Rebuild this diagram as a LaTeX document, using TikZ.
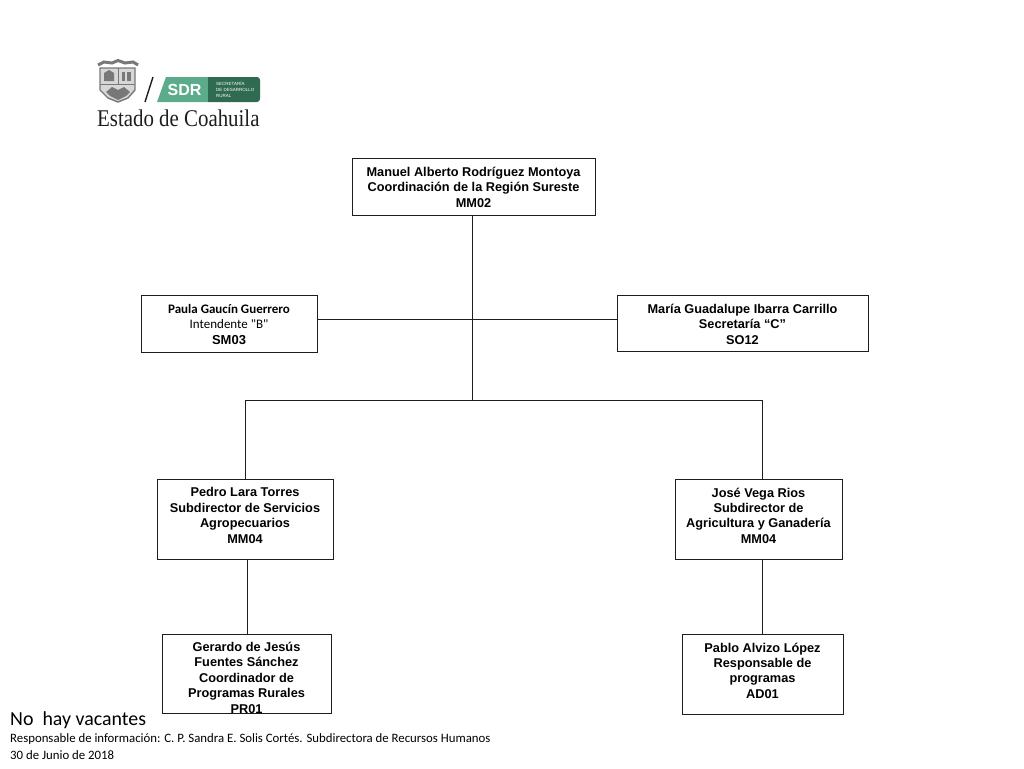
\documentclass[tikz,border=0pt]{standalone}
\usepackage{fontspec}
\setmainfont{Liberation Sans}
\newfontfamily\calfont{Carlito}
\newfontfamily\logofont{Liberation Serif}
\usepackage{tikz}
\usetikzlibrary{calc,positioning}
\definecolor{myline}{RGB}{30,30,30}
\definecolor{mygray}{RGB}{120,120,120}
\definecolor{mylight}{RGB}{215,215,215}
\definecolor{mygreen}{RGB}{92,172,140}
\definecolor{mydark}{RGB}{47,107,80}
\tikzset{
  orgbox/.style={draw=myline, line width=1pt, inner sep=0pt},
  orgtext/.style={align=center, inner sep=0pt, font=\fontsize{12.75}{15.4}\selectfont\bfseries},
  orgline/.style={draw=myline, line width=1pt},
  foot/.style={anchor=west, inner sep=0pt, font=\calfont\fontsize{12.8}{15}\selectfont}
}
\begin{document}
\begin{tikzpicture}[x=1pt, y=-1pt]
  \useasboundingbox (0,0) rectangle (1024,768);

  % Logo
  \fill[mylight] (100,68) -- (135,68) -- (135,90) -- (128,98) -- (118,102) -- (108,98) -- (100,90) -- cycle;
  \draw[mygray, line width=1.4pt] (100,68) -- (135,68) -- (135,90) -- (128,98) -- (118,102) -- (108,98) -- (100,90) -- cycle;
  \draw[mygray, line width=3pt] (98,65) -- (104,62) -- (112,63) -- (118,60.5) -- (125,63) -- (133,62) -- (138,65);
  \draw[mygray, line width=1pt] (118,68) -- (118,84) (100,84) -- (135,84);
  \fill[mygray] (104,73) -- (109,70) -- (114,73) -- (114,81) -- (104,81) -- cycle;
  \fill[mygray] (122,72) rectangle (125,81);
  \fill[mygray] (127,72) rectangle (131,81);
  \fill[mygray] (106,92) -- (112,87) -- (118,90) -- (124,87) -- (130,92) -- (126,96) -- (118,100) -- (110,96) -- cycle;
  \draw[myline, line width=1.4pt] (145,102) -- (153,77);
  \fill[mygreen] (157,102) -- (166,77) -- (208,77) -- (208,102) -- cycle;
  \fill[mydark] (208,77) -- (257,77) to[out=0, in=90] (260,80) -- (260,99) to[out=-90, in=0] (257,102) -- (208,102) -- cycle;
  \node[inner sep=0pt, text=white, font=\fontsize{16}{16}\selectfont\bfseries] (sdr) at (184.5,89.5) {SDR};
  \node[inner sep=0pt, text=white, align=left, anchor=west, font=\fontsize{4.5}{6.2}\selectfont] (sdrtxt) at (216,89.5) {SECRETARÍA\\DE DESARROLLO\\RURAL};
  \node[inner sep=0pt, text=myline, anchor=west, xscale=0.87, transform shape, font=\logofont\fontsize{24}{24}\selectfont] (estado) at (97,118) {Estado de Coahuila};

  % Boxes
  \node[orgbox, minimum width=243pt, minimum height=57pt] (coord) at (473.5,186.5) {};
  \node[orgbox, minimum width=176pt, minimum height=57pt] (intend) at (229,323.5) {};
  \node[orgbox, minimum width=251pt, minimum height=56pt] (secre) at (742.5,323) {};
  \node[orgbox, minimum width=176pt, minimum height=80pt] (pedro) at (245,519) {};
  \node[orgbox, minimum width=167pt, minimum height=80pt] (jose) at (758.5,519) {};
  \node[orgbox, minimum width=169pt, minimum height=79pt] (gerardo) at (246.5,673.5) {};
  \node[orgbox, minimum width=161pt, minimum height=80pt] (pablo) at (762.5,674) {};

  % Box texts
  \node[orgtext, below=9.5pt of coord.north] (coordtxt) {Manuel Alberto Rodríguez Montoya\\Coordinación de la Región Sureste\\MM02};
  \node[orgtext, below=9.5pt of intend.north, font=\fontsize{13}{15.4}\selectfont] (intendtxt) {{\calfont\bfseries Paula Gaucín Guerrero}\\{\calfont Intendente "B"}\\\textbf{SM03}};
  \node[orgtext, below=9.5pt of secre.north] (secretxt) {María Guadalupe Ibarra Carrillo\\Secretaría “C”\\SO12};
  \node[orgtext, below=9pt of pedro.north] (pedrotxt) {Pedro Lara Torres\\Subdirector de Servicios\\Agropecuarios\\MM04};
  \node[orgtext, below=9pt of jose.north] (josetxt) {José Vega Rios\\Subdirector de\\Agricultura y Ganadería\\MM04};
  \node[orgtext, below=8.5pt of gerardo.north] (gerardotxt) {Gerardo de Jesús\\Fuentes Sánchez\\Coordinador de\\Programas Rurales\\PR01};
  \node[orgtext, below=9pt of pablo.north] (pablotxt) {Pablo Alvizo López\\Responsable de\\programas\\AD01};

  % Connectors
  \coordinate (bus) at (472,400);
  \coordinate (side) at (472,319.5);
  \coordinate (busl) at (245.5,400);
  \coordinate (busr) at (762,400);
  \coordinate (subl) at (247,559);
  \coordinate (subr) at (762.5,559);
  \draw[orgline] (coord.south -| bus) -- (bus);
  \draw[orgline] (intend.east |- side) -- (secre.west |- side);
  \draw[orgline] (busl) -- (busr);
  \draw[orgline] (busl) -- (pedro.north -| busl);
  \draw[orgline] (busr) -- (jose.north -| busr);
  \draw[orgline] (pedro.south -| subl) -- (gerardo.north -| subl);
  \draw[orgline] (jose.south -| subr) -- (pablo.north -| subr);

  % Footer
  \node[foot, font=\calfont\fontsize{19.9}{22}\selectfont] (vacantes) at (10,720.5) {No\ \ hay vacantes};
  \node[foot] (resp) at (10,739.5) {Responsable de información: C. P. Sandra E. Solis Cortés. Subdirectora de Recursos Humanos};
  \node[foot] (fecha) at (10,755) {30 de Junio de 2018};
\end{tikzpicture}
\end{document}
